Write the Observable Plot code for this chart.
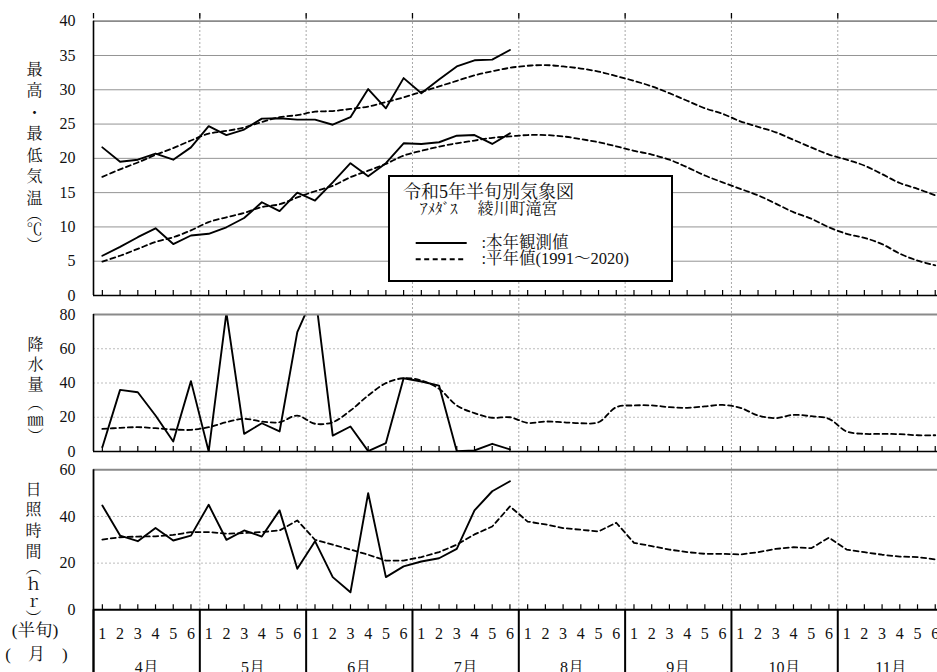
<!DOCTYPE html>
<html><head><meta charset="utf-8">
<script src="https://cdn.jsdelivr.net/npm/d3@7"></script>
<script src="https://cdn.jsdelivr.net/npm/@observablehq/plot@0.6"></script>
<style>
html,body{margin:0;padding:0;background:#fff;overflow:hidden;}
#wrap{position:relative;width:937px;height:672px;overflow:hidden;font-family:"Liberation Serif","Noto Serif CJK JP",serif;color:#111;}
.pn{position:absolute;left:0;}
#lgbox{position:absolute;left:388px;top:175px;width:285px;height:107px;border:2.5px solid #000;box-sizing:border-box;background:#fff;}
.lt{position:absolute;white-space:nowrap;line-height:0.8;transform:translateY(-50%);}
#lgsvg{position:absolute;left:0;top:0;}
</style></head><body><div id="wrap"></div>
<script>
// ---- data ----
const months = ["4月","5月","6月","7月","8月","9月","10月","11月"];
const halfLabels = ["1","2","3","4","5","6"];
const tempTicks = [0,5,10,15,20,25,30,35,40];
const precipTicks = [0,20,40,60,80];
const sunTicks = [0,20,40,60];
const tempTitle = ["最\n高\n・\n最\n低\n気\n温", "︵\n℃\n︶"];
const precipTitle = ["降\n水\n量", "︵\n㎜\n︶"];
const sunTitle = ["日\n照\n時\n間", "︵\nｈ\nｒ\n︶"];
const halfRowLabel = "(半旬)";
const monthRowLabel = "(　月　)";
const legendTitle = "令和5年半旬別気象図";
const legendStation1 = "ｱﾒﾀﾞｽ";
const legendStation2 = "綾川町滝宮";
const legendObs = ":本年観測値";
const legendNorm = ":平年値(1991～2020)";

const maxTemp2023 = [21.6,19.5,19.8,20.7,19.8,21.6,24.7,23.4,24.2,25.8,25.85,25.65,25.65,24.9,26.0,30.1,27.3,31.7,29.5,31.5,33.4,34.3,34.4,35.8];
const maxTempNormal = [17.3,18.4,19.4,20.5,21.5,22.6,23.6,24.0,24.5,25.3,26.0,26.3,26.8,26.9,27.2,27.55,28.2,28.9,29.7,30.5,31.3,32.1,32.7,33.2,33.5,33.6,33.4,33.1,32.65,32.0,31.3,30.5,29.5,28.4,27.3,26.5,25.4,24.6,23.8,22.7,21.6,20.55,19.8,18.95,17.7,16.4,15.55,14.6];
const minTemp2023 = [5.8,7.1,8.5,9.8,7.5,8.75,9.0,9.95,11.3,13.6,12.3,15.0,13.85,16.5,19.3,17.4,19.3,22.2,22.1,22.35,23.3,23.4,22.1,23.65];
const minTempNormal = [4.95,5.8,6.8,7.8,8.5,9.5,10.7,11.4,12.05,12.9,13.3,14.3,15.2,16.0,17.25,18.2,19.2,20.4,21.1,21.7,22.2,22.6,23.0,23.2,23.4,23.4,23.2,22.8,22.35,21.75,21.1,20.55,19.8,18.7,17.5,16.5,15.55,14.6,13.4,12.15,11.2,9.95,9.0,8.4,7.5,6.1,5.1,4.4];
const precip2023 = [2.5,36.0,34.6,21.0,5.8,41.1,0,81,10.3,16.5,11.7,69.7,93,9.3,14.6,0.2,4.9,42.8,40.9,38.5,0.2,0.6,4.5,1.2];
const precipNormal = [13.2,13.8,14.2,13.6,12.85,12.65,14.2,17.1,19.1,17.5,17.1,21.0,16.2,17.1,23.9,32.7,39.9,42.8,41.5,36.6,26.9,22.4,19.7,20.0,16.7,17.5,17.1,16.5,17.1,25.9,26.9,26.9,25.9,25.5,26.3,27.2,25.5,21.0,19.5,21.4,20.6,19.1,11.7,10.3,10.3,10.1,9.5,9.5];
const sun2023 = [44.7,31.8,29.4,35.1,29.7,31.8,45.0,30.0,34.0,31.4,42.6,17.6,29.4,14.0,7.5,50.0,14.0,18.6,20.7,22.1,26.1,42.6,50.8,55.1];
const sunNormal = [30.1,31.1,31.4,31.5,32.1,33.3,33.3,32.6,32.9,33.3,34.0,38.3,30.0,27.9,25.8,23.6,21.1,21.1,22.6,24.7,27.9,32.3,35.7,44.3,37.8,36.6,35.0,34.3,33.6,37.3,28.7,27.3,25.8,24.7,24.0,24.0,23.7,24.7,26.1,26.8,26.4,30.9,25.8,24.7,23.6,22.8,22.6,21.6];

// ---- layout ----
const N = months.length * halfLabels.length;
const xOf = (d, i) => i + 0.5;
const monthEdges = d3.range(0, N + 1, 6);
const innerEdges = monthEdges.filter(d => d > 0 && d < N);
const centers = d3.range(N).map(i => i + 0.5);
const periodCells = centers.map((c, i) => ({c, label: halfLabels[i % 6]}));
const monthCells = months.map((m, k) => ({c: k * 6 + 3, label: m}));
const FONT = '"Liberation Serif","Noto Serif CJK JP",serif';
const ML = 93;
const X = {domain: [0, N], range: [ML, 943.6], axis: null};
const style = {fontFamily: FONT, fontSize: "16px", color: "#111", background: "transparent"};
const wrap = document.getElementById("wrap");

const solid = {stroke: "#000", strokeWidth: 1.9};
const dashed = {stroke: "#000", strokeWidth: 1.8, strokeDasharray: "5,3.5"};
const dotV = {stroke: "#a8a8a8", strokeWidth: 1, strokeDasharray: "2,2"};
const dotH = {stroke: "#bdbdbd", strokeWidth: 1, strokeDasharray: "2,2"};

// vertical title block: first glyph centre at page y `first`, line spacing `gap`
function vTitle(str, frameTop, cx, first, gap, size = 16) {
  const lh = gap / size;
  const y = first + 0.38 * size - 0.71 * lh * size;
  return Plot.text([str], {frameAnchor: "top-left", dx: cx - ML, dy: y - frameTop,
    textAnchor: "middle", lineAnchor: "top", lineHeight: lh, fontSize: size});
}

function panel(top, height, marginTop, marginBottom, domain, marks) {
  const svg = Plot.plot({
    width: 937, height, marginTop, marginBottom, marginLeft: ML, marginRight: 0,
    x: X, y: {domain, axis: null}, style, marks
  });
  const div = document.createElement("div");
  div.className = "pn";
  div.style.top = top + "px";
  div.append(svg);
  wrap.append(div);
}

// Temperature panel (frame 20.7 .. 295)
{
  const top = 0, mt = 20.7, bottom0 = 295, h = 306, mb = h - bottom0, k = (bottom0 - mt) / 40;
  panel(top, h, mt, mb, [0, 40], [
    Plot.ruleY(tempTicks.filter(d => d > 0 && d < 40), {stroke: "#949494", strokeWidth: 1}),
    Plot.ruleX(innerEdges, {y1: -5 / k, y2: 40 + 7.7 / k, ...dotV}),
    Plot.ruleX(monthEdges.slice(0, -1), {y1: 40 + 2.3 / k, y2: 40 + 7.7 / k, stroke: "#000", strokeWidth: 1.3}),
    Plot.line(maxTempNormal, {x: xOf, y: d => d, ...dashed, curve: "catmull-rom"}),
    Plot.line(minTempNormal, {x: xOf, y: d => d, ...dashed, curve: "catmull-rom"}),
    Plot.line(maxTemp2023, {x: xOf, y: d => d, ...solid}),
    Plot.line(minTemp2023, {x: xOf, y: d => d, ...solid}),
    Plot.ruleY([40], {stroke: "#8a8a8a", strokeWidth: 1.8}),
    Plot.ruleY([0], {stroke: "#000", strokeWidth: 1.6}),
    Plot.ruleX(centers, {y1: 0, y2: 5 / k, stroke: "#000", strokeWidth: 1.2}),
    Plot.ruleX([0], {y1: 0, y2: 40, stroke: "#000", strokeWidth: 1.6}),
    Plot.axisY({ticks: tempTicks, tickSize: 0, tickPadding: 18, fontSize: 16, label: null}),
    vTitle(tempTitle[0], top + mt, 34, 68, 21.5),
    vTitle(tempTitle[1], top + mt, 34, 213, 15.5)
  ]);
}

// Precipitation panel (frame 314 .. 451)
{
  const top = 300, mt = 14, h = 163, mb = h - 151, k = 137 / 80;
  panel(top, h, mt, mb, [0, 80], [
    Plot.ruleY([20, 40, 60], dotH),
    Plot.ruleX(innerEdges, {y1: -6 / k, y2: 80 + mt / k, ...dotV}),
    Plot.line(precipNormal, {x: xOf, y: d => d, ...dashed, curve: "catmull-rom"}),
    Plot.line(precip2023, {x: xOf, y: d => d, ...solid, clip: true}),
    Plot.ruleY([80], {stroke: "#8a8a8a", strokeWidth: 2}),
    Plot.ruleY([0], {stroke: "#000", strokeWidth: 1.6}),
    Plot.ruleX(centers, {y1: 0, y2: 5 / k, stroke: "#000", strokeWidth: 1.2}),
    Plot.ruleX([0], {y1: 0, y2: 80, stroke: "#000", strokeWidth: 1.6}),
    Plot.axisY({ticks: precipTicks, tickSize: 0, tickPadding: 18, fontSize: 16, label: null}),
    vTitle(precipTitle[0], top + mt, 35, 343, 20),
    vTitle(precipTitle[1], top + mt, 35, 402, 16.5)
  ]);
}

// Sunshine panel + bottom table (frame 469.3 .. 609.3)
{
  const top = 457, mt = 12.3, h = 215, mb = 62.7, k = 140 / 60;
  panel(top, h, mt, mb, [0, 60], [
    Plot.ruleY([20, 40], dotH),
    Plot.ruleX(innerEdges, {y1: 0, y2: 60 + mt / k, ...dotV}),
    Plot.line(sunNormal, {x: xOf, y: d => d, ...dashed}),
    Plot.line(sun2023, {x: xOf, y: d => d, ...solid}),
    Plot.ruleY([60], {stroke: "#8a8a8a", strokeWidth: 2}),
    Plot.ruleY([0], {stroke: "#000", strokeWidth: 2}),
    Plot.ruleX(centers, {y1: 0, y2: 5 / k, stroke: "#000", strokeWidth: 1.2}),
    Plot.ruleX(monthEdges, {y1: -mb / k, y2: 0, stroke: "#000", strokeWidth: 2}),
    Plot.ruleX([0], {y1: -mb / k, y2: 60, stroke: "#000", strokeWidth: 1.8}),
    Plot.axisY({ticks: sunTicks, tickSize: 0, tickPadding: 18, fontSize: 16, label: null}),
    Plot.text(periodCells, {x: "c", y: 0, text: "label", dy: 23.7, fontSize: 16}),
    Plot.text(monthCells, {x: "c", y: 0, text: "label", dy: 63.5, lineAnchor: "bottom", fontSize: 16}),
    Plot.text([halfRowLabel], {frameAnchor: "bottom-left", dx: 34.5 - ML, dy: 26.5, textAnchor: "middle", fontSize: 17.5}),
    Plot.text([monthRowLabel], {frameAnchor: "bottom-left", dx: 36 - ML, dy: 50, textAnchor: "middle", fontSize: 17}),
    vTitle(sunTitle[0], top + mt, 33, 488, 20.7),
    vTitle(sunTitle[1], top + mt, 33, 566, 17.2)
  ]);
}

// Legend box (HTML overlay)
{
  const box = document.createElement("div");
  box.id = "lgbox";
  wrap.append(box);
  const add = (txt, left, cy, size) => {
    const d = document.createElement("div");
    d.className = "lt";
    d.textContent = txt;
    d.style.left = left + "px";
    d.style.top = cy + "px";
    d.style.fontSize = size + "px";
    wrap.append(d);
  };
  add(legendTitle, 403, 192, 18);
  add(legendStation1, 420, 209, 15);
  add(legendStation2, 477.5, 209, 16);
  add(legendObs, 481.5, 243, 16.5);
  add(legendNorm, 481.5, 259.3, 16.5);
  const ns = "http://www.w3.org/2000/svg";
  const s = document.createElementNS(ns, "svg");
  s.setAttribute("id", "lgsvg");
  s.setAttribute("width", 937); s.setAttribute("height", 672);
  s.style.pointerEvents = "none";
  [[243, null], [259.3, "5,3.5"]].forEach(([y, dash]) => {
    const l = document.createElementNS(ns, "line");
    l.setAttribute("x1", 415.7); l.setAttribute("x2", 466.7);
    l.setAttribute("y1", y); l.setAttribute("y2", y);
    l.setAttribute("stroke", "#000"); l.setAttribute("stroke-width", 1.9);
    if (dash) l.setAttribute("stroke-dasharray", dash);
    s.append(l);
  });
  wrap.append(s);
}
</script></body></html>
